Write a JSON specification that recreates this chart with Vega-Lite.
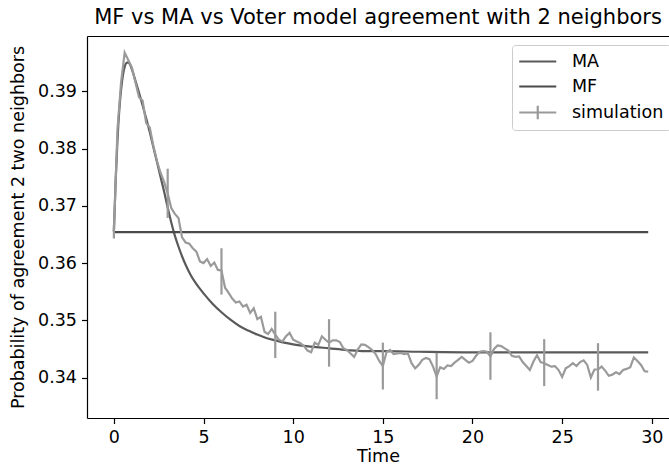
{
  "$schema": "https://vega.github.io/schema/vega-lite/v6.json",
  "width": 582,
  "height": 382,
  "autosize": {"type": "none"},
  "padding": {"left": 87, "top": 36, "right": 0, "bottom": 50},
  "background": "white",
  "title": {"text": "MF vs MA vs Voter model agreement with 2 neighbors", "font": "DejaVu Sans", "fontSize": 21, "fontWeight": "normal", "color": "black", "offset": 8, "anchor": "middle"},
  "config": {
    "view": {"stroke": null},
    "axis": {"grid": false, "domainColor": "black", "tickColor": "black", "domainWidth": 1.2, "tickWidth": 1.2, "tickSize": 5.5, "labelFont": "DejaVu Sans", "labelFontSize": 17.5, "labelColor": "black", "titleFont": "DejaVu Sans", "titleFontSize": 17.5, "titleFontWeight": "normal", "titleColor": "black", "labelPadding": 5},
    "legend": {"labelFont": "DejaVu Sans"}
  },
  "datasets": {
    "ma": [
      {"t":0,"v":0.3655,"s":"MA"},{"t":0.1,"v":0.3745,"s":"MA"},{"t":0.2,"v":0.3815,"s":"MA"},{"t":0.3,"v":0.3867,"s":"MA"},{"t":0.4,"v":0.3903,"s":"MA"},{"t":0.5,"v":0.3928,"s":"MA"},{"t":0.6,"v":0.3943,"s":"MA"},{"t":0.7,"v":0.3950,"s":"MA"},{"t":0.8,"v":0.3951,"s":"MA"},{"t":0.9,"v":0.3947,"s":"MA"},{"t":1.0,"v":0.3939,"s":"MA"},{"t":1.2,"v":0.3919,"s":"MA"},{"t":1.4,"v":0.3898,"s":"MA"},{"t":1.6,"v":0.3876,"s":"MA"},{"t":1.8,"v":0.3853,"s":"MA"},{"t":2.0,"v":0.3829,"s":"MA"},{"t":2.2,"v":0.3803,"s":"MA"},{"t":2.4,"v":0.3777,"s":"MA"},{"t":2.6,"v":0.3751,"s":"MA"},{"t":2.8,"v":0.3725,"s":"MA"},{"t":3.0,"v":0.3697,"s":"MA"},{"t":3.2,"v":0.3671,"s":"MA"},{"t":3.4,"v":0.3648,"s":"MA"},{"t":3.6,"v":0.3629,"s":"MA"},{"t":3.8,"v":0.3612,"s":"MA"},{"t":4.0,"v":0.3597,"s":"MA"},{"t":4.25,"v":0.3581,"s":"MA"},{"t":4.5,"v":0.3568,"s":"MA"},{"t":4.75,"v":0.3557,"s":"MA"},{"t":5.0,"v":0.3547,"s":"MA"},{"t":5.5,"v":0.3529,"s":"MA"},{"t":6.0,"v":0.3514,"s":"MA"},{"t":6.5,"v":0.3501,"s":"MA"},{"t":7.0,"v":0.3490,"s":"MA"},{"t":7.5,"v":0.3482,"s":"MA"},{"t":8.0,"v":0.3475,"s":"MA"},{"t":8.5,"v":0.3469,"s":"MA"},{"t":9.0,"v":0.3465,"s":"MA"},{"t":9.5,"v":0.3461,"s":"MA"},{"t":10,"v":0.3458,"s":"MA"},{"t":11,"v":0.3454,"s":"MA"},{"t":12,"v":0.3451,"s":"MA"},{"t":13,"v":0.3448,"s":"MA"},{"t":14,"v":0.3446,"s":"MA"},{"t":15,"v":0.3446,"s":"MA"},{"t":17,"v":0.3445,"s":"MA"},{"t":20,"v":0.3444,"s":"MA"},{"t":25,"v":0.3444,"s":"MA"},{"t":29.8,"v":0.3444,"s":"MA"}
    ],
    "lines": [
      {"t":0,"v":0.3654,"s":"MF"},{"t":29.8,"v":0.3654,"s":"MF"},
      {"t":0,"v":0.3655,"s":"simulation"},{"t":0.2,"v":0.3834,"s":"simulation"},{"t":0.4,"v":0.3916,"s":"simulation"},{"t":0.6,"v":0.3968,"s":"simulation"},{"t":0.8,"v":0.3955,"s":"simulation"},{"t":1.0,"v":0.3942,"s":"simulation"},{"t":1.2,"v":0.3916,"s":"simulation"},{"t":1.4,"v":0.3890,"s":"simulation"},{"t":1.6,"v":0.3884,"s":"simulation"},{"t":1.8,"v":0.3845,"s":"simulation"},{"t":2.0,"v":0.3837,"s":"simulation"},{"t":2.2,"v":0.3805,"s":"simulation"},{"t":2.4,"v":0.3779,"s":"simulation"},{"t":2.6,"v":0.3758,"s":"simulation"},{"t":2.8,"v":0.3742,"s":"simulation"},
      {"t":3.0,"v":0.3722,"s":"simulation"},{"t":3.2,"v":0.3696,"s":"simulation"},{"t":3.4,"v":0.3686,"s":"simulation"},{"t":3.6,"v":0.3679,"s":"simulation"},{"t":3.8,"v":0.3645,"s":"simulation"},{"t":4.0,"v":0.3636,"s":"simulation"},{"t":4.2,"v":0.3634,"s":"simulation"},{"t":4.4,"v":0.3626,"s":"simulation"},{"t":4.6,"v":0.3620,"s":"simulation"},{"t":4.8,"v":0.3603,"s":"simulation"},{"t":5.0,"v":0.3600,"s":"simulation"},{"t":5.2,"v":0.3607,"s":"simulation"},{"t":5.4,"v":0.3595,"s":"simulation"},{"t":5.6,"v":0.3601,"s":"simulation"},{"t":5.8,"v":0.3588,"s":"simulation"},
      {"t":6.0,"v":0.3587,"s":"simulation"},{"t":6.2,"v":0.3557,"s":"simulation"},{"t":6.4,"v":0.3548,"s":"simulation"},{"t":6.6,"v":0.3538,"s":"simulation"},{"t":6.8,"v":0.3531,"s":"simulation"},{"t":7.0,"v":0.3533,"s":"simulation"},{"t":7.2,"v":0.3524,"s":"simulation"},{"t":7.4,"v":0.3527,"s":"simulation"},{"t":7.6,"v":0.3513,"s":"simulation"},{"t":7.8,"v":0.3521,"s":"simulation"},{"t":8.0,"v":0.3502,"s":"simulation"},{"t":8.2,"v":0.3506,"s":"simulation"},{"t":8.4,"v":0.3480,"s":"simulation"},{"t":8.6,"v":0.3476,"s":"simulation"},{"t":8.8,"v":0.3485,"s":"simulation"},
      {"t":9.0,"v":0.3475,"s":"simulation"},{"t":9.2,"v":0.3466,"s":"simulation"},{"t":9.4,"v":0.3463,"s":"simulation"},{"t":9.6,"v":0.3472,"s":"simulation"},{"t":9.8,"v":0.3478,"s":"simulation"},{"t":10.0,"v":0.3466,"s":"simulation"},{"t":10.2,"v":0.3463,"s":"simulation"},{"t":10.4,"v":0.3460,"s":"simulation"},{"t":10.6,"v":0.3455,"s":"simulation"},{"t":10.8,"v":0.3447,"s":"simulation"},{"t":11.0,"v":0.3444,"s":"simulation"},{"t":11.2,"v":0.3461,"s":"simulation"},{"t":11.4,"v":0.3457,"s":"simulation"},{"t":11.6,"v":0.3472,"s":"simulation"},{"t":11.8,"v":0.3466,"s":"simulation"},
      {"t":12.0,"v":0.3461,"s":"simulation"},{"t":12.2,"v":0.3465,"s":"simulation"},{"t":12.4,"v":0.3465,"s":"simulation"},{"t":12.6,"v":0.3462,"s":"simulation"},{"t":12.8,"v":0.3451,"s":"simulation"},{"t":13.0,"v":0.3448,"s":"simulation"},{"t":13.2,"v":0.3442,"s":"simulation"},{"t":13.4,"v":0.3436,"s":"simulation"},{"t":13.6,"v":0.3449,"s":"simulation"},{"t":13.8,"v":0.3458,"s":"simulation"},{"t":14.0,"v":0.3457,"s":"simulation"},{"t":14.2,"v":0.3453,"s":"simulation"},{"t":14.4,"v":0.3448,"s":"simulation"},{"t":14.6,"v":0.3441,"s":"simulation"},{"t":14.8,"v":0.3429,"s":"simulation"},
      {"t":15.0,"v":0.3420,"s":"simulation"},{"t":15.2,"v":0.3444,"s":"simulation"},{"t":15.4,"v":0.3448,"s":"simulation"},{"t":15.6,"v":0.3441,"s":"simulation"},{"t":15.8,"v":0.3442,"s":"simulation"},{"t":16.0,"v":0.3443,"s":"simulation"},{"t":16.2,"v":0.3441,"s":"simulation"},{"t":16.4,"v":0.3442,"s":"simulation"},{"t":16.6,"v":0.3425,"s":"simulation"},{"t":16.8,"v":0.3416,"s":"simulation"},{"t":17.0,"v":0.3422,"s":"simulation"},{"t":17.2,"v":0.3431,"s":"simulation"},{"t":17.4,"v":0.3434,"s":"simulation"},{"t":17.6,"v":0.3432,"s":"simulation"},{"t":17.8,"v":0.3419,"s":"simulation"},
      {"t":18.0,"v":0.3402,"s":"simulation"},{"t":18.2,"v":0.3418,"s":"simulation"},{"t":18.4,"v":0.3415,"s":"simulation"},{"t":18.6,"v":0.3421,"s":"simulation"},{"t":18.8,"v":0.3420,"s":"simulation"},{"t":19.0,"v":0.3426,"s":"simulation"},{"t":19.2,"v":0.3431,"s":"simulation"},{"t":19.4,"v":0.3436,"s":"simulation"},{"t":19.6,"v":0.3431,"s":"simulation"},{"t":19.8,"v":0.3426,"s":"simulation"},{"t":20.0,"v":0.3429,"s":"simulation"},{"t":20.2,"v":0.3438,"s":"simulation"},{"t":20.4,"v":0.3445,"s":"simulation"},{"t":20.6,"v":0.3446,"s":"simulation"},{"t":20.8,"v":0.3445,"s":"simulation"},
      {"t":21.0,"v":0.3437,"s":"simulation"},{"t":21.2,"v":0.3450,"s":"simulation"},{"t":21.4,"v":0.3456,"s":"simulation"},{"t":21.6,"v":0.3455,"s":"simulation"},{"t":21.8,"v":0.3451,"s":"simulation"},{"t":22.0,"v":0.3447,"s":"simulation"},{"t":22.2,"v":0.3438,"s":"simulation"},{"t":22.4,"v":0.3436,"s":"simulation"},{"t":22.6,"v":0.3437,"s":"simulation"},{"t":22.8,"v":0.3427,"s":"simulation"},{"t":23.0,"v":0.3420,"s":"simulation"},{"t":23.2,"v":0.3413,"s":"simulation"},{"t":23.4,"v":0.3428,"s":"simulation"},{"t":23.6,"v":0.3439,"s":"simulation"},{"t":23.8,"v":0.3427,"s":"simulation"},
      {"t":24.0,"v":0.3425,"s":"simulation"},{"t":24.2,"v":0.3422,"s":"simulation"},{"t":24.4,"v":0.3419,"s":"simulation"},{"t":24.6,"v":0.3420,"s":"simulation"},{"t":24.8,"v":0.3413,"s":"simulation"},{"t":25.0,"v":0.3401,"s":"simulation"},{"t":25.2,"v":0.3416,"s":"simulation"},{"t":25.4,"v":0.3420,"s":"simulation"},{"t":25.6,"v":0.3425,"s":"simulation"},{"t":25.8,"v":0.3420,"s":"simulation"},{"t":26.0,"v":0.3427,"s":"simulation"},{"t":26.2,"v":0.3430,"s":"simulation"},{"t":26.4,"v":0.3422,"s":"simulation"},{"t":26.6,"v":0.3400,"s":"simulation"},{"t":26.8,"v":0.3414,"s":"simulation"},
      {"t":27.0,"v":0.3414,"s":"simulation"},{"t":27.2,"v":0.3419,"s":"simulation"},{"t":27.4,"v":0.3412,"s":"simulation"},{"t":27.6,"v":0.3403,"s":"simulation"},{"t":27.8,"v":0.3405,"s":"simulation"},{"t":28.0,"v":0.3409,"s":"simulation"},{"t":28.2,"v":0.3406,"s":"simulation"},{"t":28.4,"v":0.3413,"s":"simulation"},{"t":28.6,"v":0.3415,"s":"simulation"},{"t":28.8,"v":0.3418,"s":"simulation"},{"t":29.0,"v":0.3435,"s":"simulation"},{"t":29.2,"v":0.3429,"s":"simulation"},{"t":29.4,"v":0.3422,"s":"simulation"},{"t":29.6,"v":0.3411,"s":"simulation"},{"t":29.8,"v":0.3410,"s":"simulation"}
    ],
    "errs": [
      {"t":0,"lo":0.3643,"hi":0.3667},
      {"t":3,"lo":0.3679,"hi":0.3765},
      {"t":6,"lo":0.3545,"hi":0.3626},
      {"t":9,"lo":0.3434,"hi":0.3515},
      {"t":12,"lo":0.3419,"hi":0.3502},
      {"t":15,"lo":0.3379,"hi":0.3461},
      {"t":18,"lo":0.3362,"hi":0.3443},
      {"t":21,"lo":0.3396,"hi":0.3479},
      {"t":24,"lo":0.3385,"hi":0.3467},
      {"t":27,"lo":0.3377,"hi":0.3460}
    ]
  },
  "layer": [
    {
      "data": {"name": "ma"},
      "mark": {"type": "line", "strokeWidth": 2.2, "interpolate": "monotone"},
      "encoding": {
        "x": {"field": "t", "type": "quantitative", "scale": {"domain": [-1.5, 30.96], "nice": false, "zero": false},
              "axis": {"orient": "bottom", "values": [0,5,10,15,20,25,30], "title": "Time", "titlePadding": 1}},
        "y": {"field": "v", "type": "quantitative", "scale": {"domain": [0.33292, 0.3997], "nice": false, "zero": false},
              "axis": {"values": [0.34,0.35,0.36,0.37,0.38,0.39], "format": ".2f", "title": "Probability of agreement 2 two neighbors", "titlePadding": 10}},
        "color": {"field": "s", "type": "nominal",
                  "scale": {"domain": ["MA","MF","simulation"], "range": ["#5a5a5a","#4a4a4a","#9a9a9a"]},
                  "legend": {"title": null, "orient": "none", "legendX": 425, "legendY": 9, "direction": "vertical",
                             "strokeColor": "#cccccc", "cornerRadius": 3, "fillColor": "rgba(255,255,255,0.8)", "padding": 6,
                             "symbolSize": 342, "symbolStrokeWidth": 2.2, "symbolType": "stroke", "labelFontSize": 17.5, "labelColor": "black", "labelOffset": 33, "rowPadding": 6,
                             "encode": {"symbols": {"update": {"shape": {"signal": "datum.value === 'simulation' ? 'M-1,0H3M1,-0.72V0.72' : 'M-1,0H3'"}}}}}}
      }
    },
    {
      "data": {"name": "lines"},
      "mark": {"type": "line", "strokeWidth": 2.2},
      "encoding": {
        "x": {"field": "t", "type": "quantitative", "axis": null},
        "y": {"field": "v", "type": "quantitative"},
        "color": {"field": "s", "type": "nominal"}
      }
    },
    {
      "data": {"name": "errs"},
      "mark": {"type": "rule", "color": "#9a9a9a", "strokeWidth": 2.2},
      "encoding": {
        "x": {"field": "t", "type": "quantitative", "scale": {"domain": [-1.5, 30.96], "nice": false, "zero": false},
              "axis": {"orient": "top", "labels": false, "ticks": false, "title": null, "domain": true}},
        "y": {"field": "lo", "type": "quantitative"},
        "y2": {"field": "hi"}
      }
    }
  ],
  "resolve": {"axis": {"x": "independent"}}
}
